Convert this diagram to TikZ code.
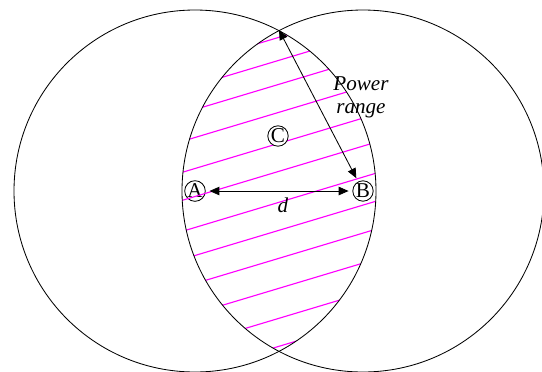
\documentclass[tikz,border=0pt]{standalone}
\usepackage{fontspec}
\setmainfont{Liberation Serif}
\usetikzlibrary{arrows.meta}
\definecolor{hatchpink}{RGB}{255,0,255}

\begin{document}
\begin{tikzpicture}[
    x=0.025cm, y=-0.025cm,
    >={Triangle[length=7pt, width=6pt]},
    station/.style={circle, draw=black, line width=0.6pt, inner sep=0pt, minimum size=14.5pt, outer sep=3pt, font=\rmfamily\fontsize{15}{17}\selectfont},
    coverage/.style={draw=black, line width=0.6pt},
    hatch/.style={draw=hatchpink, line width=0.8pt},
    arrow/.style={<->, line width=0.6pt},
    lbl/.style={font=\rmfamily\itshape\fontsize{15}{16.5}\selectfont, align=center}
]
\useasboundingbox (0,0) rectangle (542,371);

% stations
\node[station] (A) at (195,191) {A};
\node[station] (B) at (363,191) {B};
\coordinate (top) at (279,30);

% overlap area
\begin{scope}
  \clip (A) circle [radius=181];
  \clip (B) circle [radius=181];
  \foreach \b in {121,144,168,196,227,255,286,314,342,372,402,430}
    \draw[hatch] (150,{\b-45}) -- (420,{\b-126});
\end{scope}
\node[station, fill=white] (C) at (278,136) {C};

% coverage circles
\draw[coverage] (A) circle [radius=181];
\draw[coverage] (B) circle [radius=181];

\draw[arrow] (A) -- (B);
\draw[arrow] (top) -- (B);
\node[lbl] (dist) at (283,205) {d};
\node[lbl] (prange) at (361,97) {Power\\range};
\end{tikzpicture}
\end{document}
